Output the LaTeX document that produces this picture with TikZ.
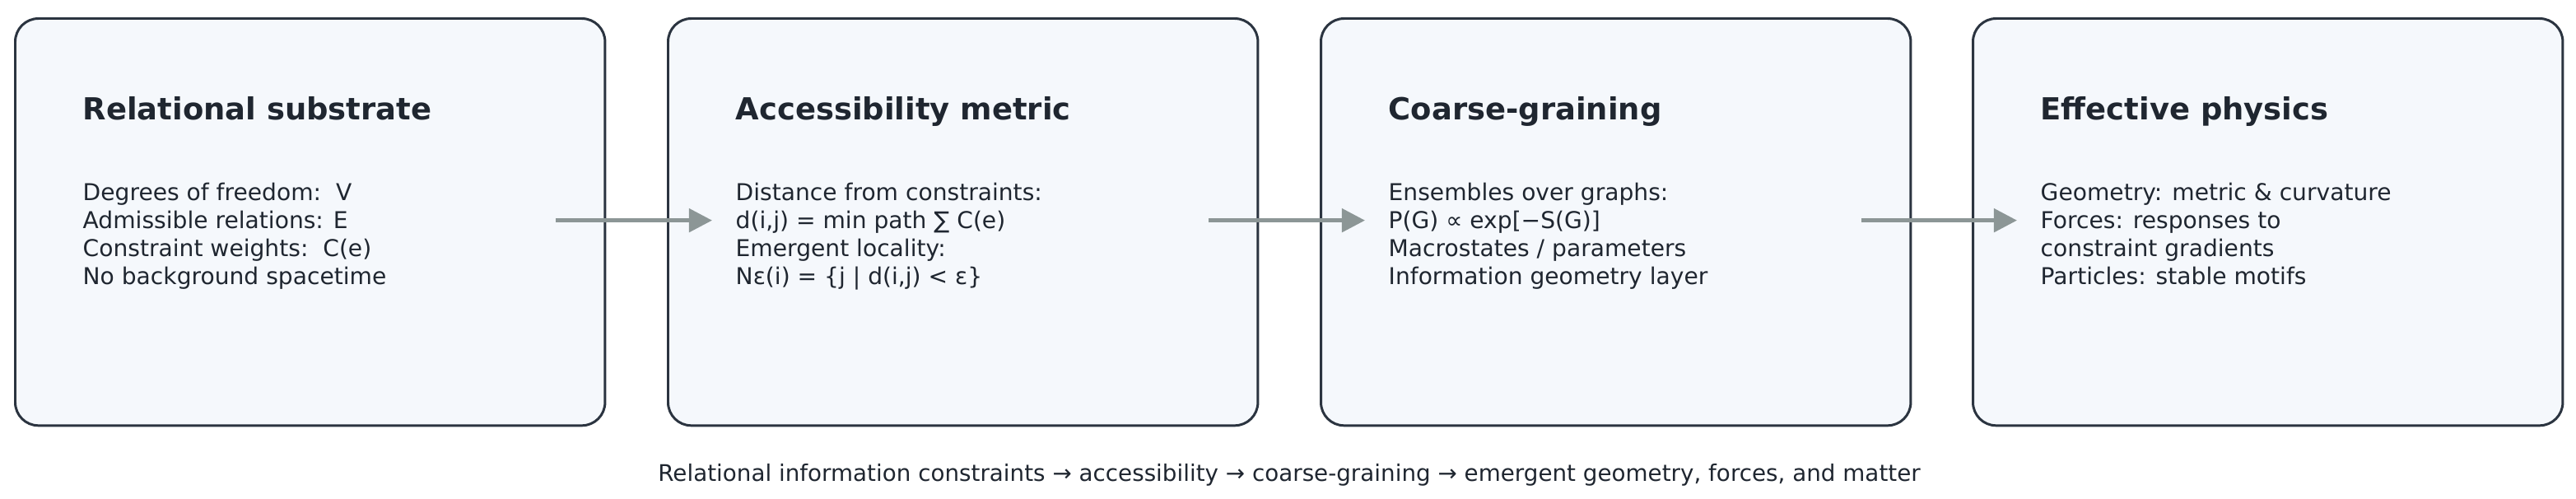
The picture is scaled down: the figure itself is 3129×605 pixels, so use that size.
\documentclass[tikz,border=0pt]{standalone}
\usepackage{fontspec}
\setmainfont{DejaVu Sans}
\usetikzlibrary{positioning,arrows.meta,calc}
\definecolor{boxfill}{HTML}{F5F8FC}
\definecolor{boxline}{HTML}{2B3440}
\definecolor{arrowgray}{HTML}{8C9696}
\definecolor{textdark}{HTML}{1F2630}

\begin{document}
\begin{tikzpicture}[
    x=0.01cm, y=-0.01cm,
    every node/.style={text=textdark},
    stage/.style={rectangle, draw=boxline, fill=boxfill, line width=0.85pt, rounded corners=8pt, minimum width=7.16cm, minimum height=4.94cm, anchor=north west},
    heading/.style={anchor=base west, inner sep=0pt, font=\fontsize{10.5}{12}\selectfont\bfseries},
    body/.style={anchor=north west, align=left, inner sep=0pt, font=\fontsize{8}{9.7}\selectfont},
    flow/.style={draw=arrowgray, line width=1.4pt, -{Triangle[length=8pt, width=8pt]}}
]
\useasboundingbox (0,0) rectangle (3129,605);

% Stage boxes
\node[stage] (sub) at (17,21) {};
\node[stage] (acc) at (810,21) {};
\node[stage] (cg) at (1603,21) {};
\node[stage] (eff) at (2395,21) {};

% Headings and contents
\node[heading] (subT) at ($(sub.north west)+(83,124)$) {Relational substrate};
\node[body] (subB) at ($(sub.north west)+(83,200)$) {Degrees of freedom:\ \ V\\Admissible relations: E\\Constraint weights:\ \ C(e)\\No background spacetime};

\node[heading] (accT) at ($(acc.north west)+(83,124)$) {Accessibility metric};
\node[body] (accB) at ($(acc.north west)+(83,200)$) {Distance from constraints:\\d(i,j) = min path ∑ C(e)\\Emergent locality:\\Nε(i) = \{j | d(i,j) < ε\}};

\node[heading] (cgT) at ($(cg.north west)+(83,124)$) {Coarse-graining};
\node[body] (cgB) at ($(cg.north west)+(83,200)$) {Ensembles over graphs:\\P(G) ∝ exp[−S(G)]\\Macrostates / parameters\\Information geometry layer};

\node[heading] (effT) at ($(eff.north west)+(83,124)$) {Effective physics};
\node[body] (effB) at ($(eff.north west)+(83,200)$) {Geometry: metric \& curvature\\Forces: responses to\\constraint gradients\\Particles: stable motifs};

% Flow arrows
\coordinate (a1) at ($(sub.east)+(-61,-2)$);
\coordinate (b1) at ($(acc.west)+(55,-2)$);
\coordinate (a2) at ($(acc.east)+(-61,-2)$);
\coordinate (b2) at ($(cg.west)+(55,-2)$);
\coordinate (a3) at ($(cg.east)+(-61,-2)$);
\coordinate (b3) at ($(eff.west)+(55,-2)$);
\draw[flow] (a1) -- (b1);
\draw[flow] (a2) -- (b2);
\draw[flow] (a3) -- (b3);

% Caption
\node[font=\fontsize{7.9}{9}\selectfont] (cap) at (1566,577) {Relational information constraints → accessibility → coarse-graining → emergent geometry, forces, and matter};
\end{tikzpicture}
\end{document}
